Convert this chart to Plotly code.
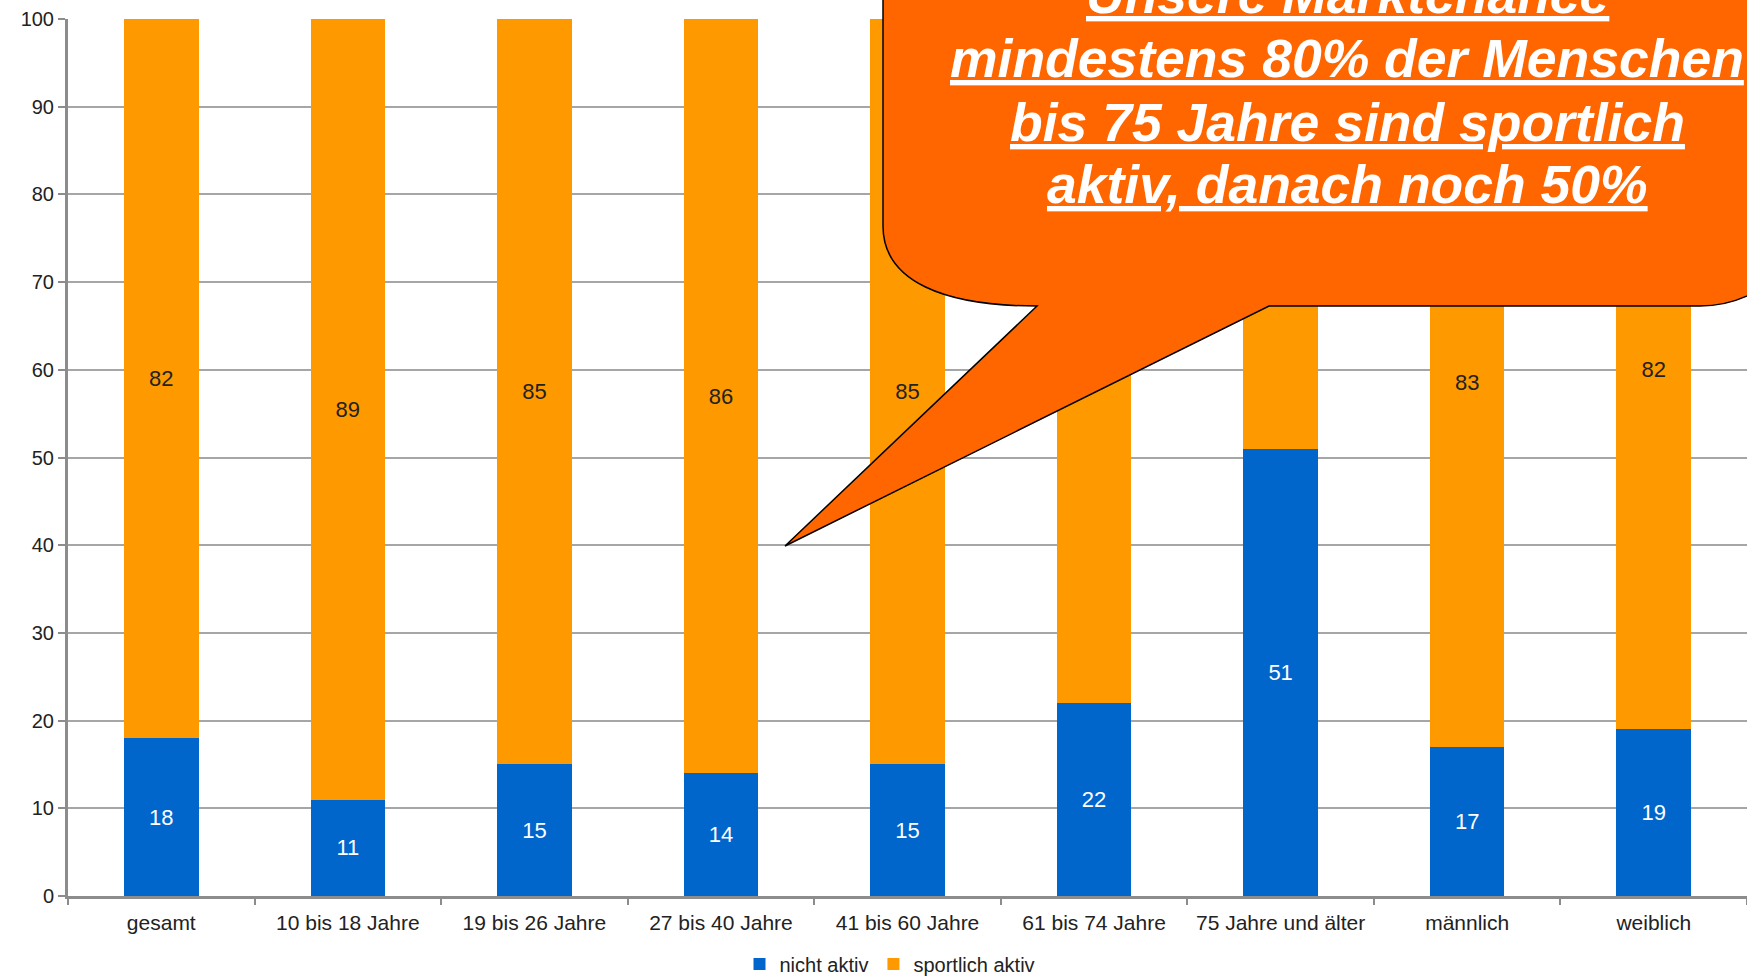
import plotly.graph_objects as go

categories = ["gesamt", "10 bis 18 Jahre", "19 bis 26 Jahre", "27 bis 40 Jahre",
              "41 bis 60 Jahre", "61 bis 74 Jahre", "75 Jahre und älter",
              "männlich", "weiblich"]
nicht_aktiv = [18, 11, 15, 14, 15, 22, 51, 17, 19]
sportlich_aktiv = [82, 89, 85, 86, 85, 78, 49, 83, 82]
series_names = ["nicht aktiv", "sportlich aktiv"]
callout_lines = ["Unsere Marktchance",
                 "mindestens 80% der Menschen",
                 "bis 75 Jahre sind sportlich",
                 "aktiv, danach noch 50%"]

W, H = 1747, 979
ML, MR, MT, MB = 68, 0, 19, 83
PW, PH = W - ML - MR, H - MT - MB


def px(x):
    return (x - ML) / PW


def py(y):
    return (H - MB - y) / PH


FONT = "Liberation Sans, Arial, sans-serif"

fig = go.Figure()
fig.add_trace(go.Bar(
    x=categories, y=nicht_aktiv, name=series_names[0],
    marker=dict(color="#0066CC", line=dict(width=0)),
    text=nicht_aktiv, textposition="inside", insidetextanchor="middle",
    textfont=dict(color="white", size=22, family=FONT),
))
fig.add_trace(go.Bar(
    x=categories, y=sportlich_aktiv, name=series_names[1],
    marker=dict(color="#FF9900", line=dict(width=0)),
    text=sportlich_aktiv, textposition="inside", insidetextanchor="middle",
    textfont=dict(color="#222222", size=22, family=FONT),
))

# speech-bubble callout (pixel geometry converted to paper fractions)
pts = [
    ("M", [(883, -30)]),
    ("L", [(883, 226)]),
    ("C", [(883, 282), (945, 306), (1037, 306)]),
    ("L", [(785, 546)]),
    ("L", [(1269, 306)]),
    ("L", [(1700, 306)]),
    ("C", [(1730, 306), (1765, 295), (1800, 255)]),
    ("L", [(1800, -30)]),
]
path = ""
for cmd, cps in pts:
    path += cmd + " " + " ".join(f"{px(a):.5f},{py(b):.5f}" for a, b in cps) + " "
path += "Z"
fig.add_shape(type="path", path=path, xref="paper", yref="paper",
              fillcolor="#FF6600", line=dict(color="black", width=1.5),
              layer="above")

centers = [-5, 59, 122, 185]
for txt, cy in zip(callout_lines, centers):
    fig.add_annotation(
        text=f"<b><i><u>{txt}</u></i></b>", xref="paper", yref="paper",
        x=px(1347), y=py(cy), xanchor="center", yanchor="middle",
        showarrow=False, font=dict(color="white", size=53.5, family=FONT),
    )

fig.update_layout(
    width=W, height=H,
    margin=dict(l=ML, r=MR, t=MT, b=MB, autoexpand=False),
    paper_bgcolor="white", plot_bgcolor="white",
    barmode="stack", bargap=0.6,
    font=dict(family=FONT, size=21, color="#222222"),
    showlegend=True,
    legend=dict(orientation="h", x=px(890), xanchor="center",
                y=py(964), yanchor="middle", font=dict(size=20),
                traceorder="normal", itemwidth=30, tracegroupgap=0,
                bgcolor="rgba(0,0,0,0)"),
    hovermode=False,
)
fig.update_xaxes(showline=True, linecolor="#8C8C8C", linewidth=3,
                 ticks="outside", tickson="boundaries", ticklen=6,
                 tickcolor="#8C8C8C", tickwidth=2, showgrid=False,
                 ticklabelstandoff=6,
                 tickfont=dict(size=21, color="#222222"))
fig.update_yaxes(range=[0, 100], dtick=10, showline=True, linecolor="#8C8C8C",
                 linewidth=3, ticks="outside", ticklen=7, tickcolor="#8C8C8C",
                 tickwidth=2, showgrid=True, gridcolor="#A6A6A6", gridwidth=2,
                 zeroline=False, tickfont=dict(size=20, color="#222222"))

fig.write_html(
    "out.html",
    config={"displayModeBar": False},
    post_script="document.body.style.margin='0';document.body.style.overflow='hidden';",
)
